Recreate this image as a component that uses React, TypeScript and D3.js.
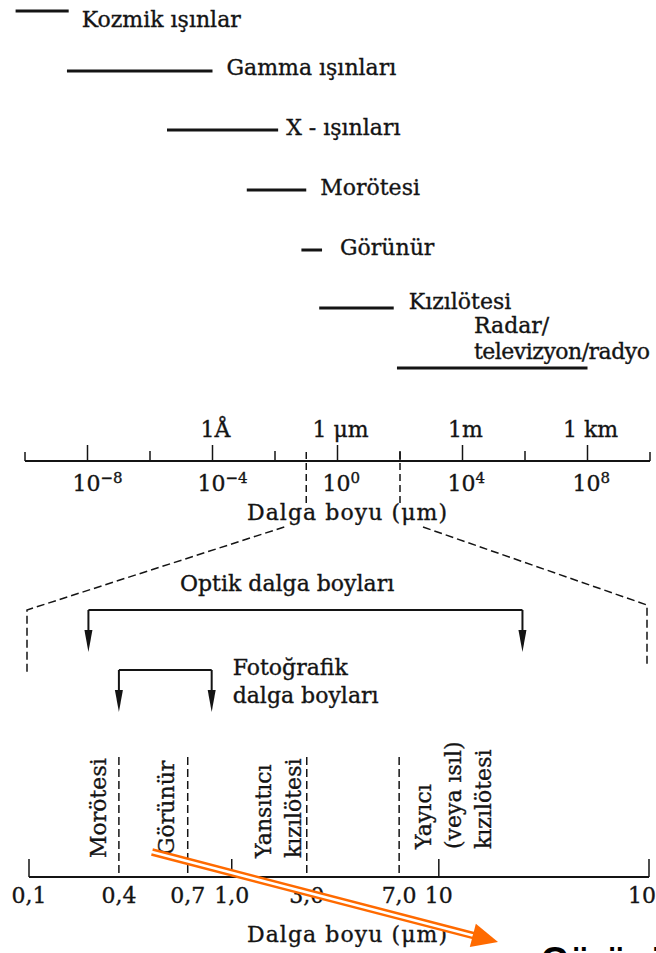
import React from "react";
import * as d3 from "d3";

// ---------- DATA ----------
// Electromagnetic spectrum bands (wavelength in µm)
const bandNames = ["Kozmik ışınlar", "Gamma ışınları", "X - ışınları", "Morötesi", "Görünür", "Kızılötesi", "Radar/|televizyon/radyo"];
const bandFrom = [5e-11, 2.2e-9, 3.5e-6, 1.25e-3, 0.07, 0.26, 80];
const bandTo = [2.5e-9, 1e-4, 0.0126, 0.1, 0.32, 63, 1e8];

// Top (log) axis
const topMajorTicks = [1e-8, 1e-4, 1, 1e4, 1e8];
const topMajorExp = ["−8", "−4", "0", "4", "8"];
const topMinorTicks = [1e-6, 1e-2, 1e2, 1e6];
const unitTicks = [1e-4, 1, 1e4, 1e8];
const unitLabels = ["1Å", "1 μm", "1m", "1 km"];
const zoomRange = [0.1, 100];

// Bottom (optical) axis
const bottomTicks = [0.1, 0.4, 0.7, 1.0, 3.0, 7.0, 10, 100];
const bottomTickLabels = ["0,1", "0,4", "0,7", "1,0", "3,0", "7,0", "10", "100"];
const solidTicks = [0.1, 1.0, 10, 100];
const regionBounds = [0.4, 0.7, 3.0, 7.0];
const regionLabels = [["Morötesi"], ["Görünür"], ["Yansıtıcı", "kızılötesi"], ["Yayıcı", "(veya ısıl)", "kızılötesi"]];
const optikRange = [0.25, 25];
const fotoRange = [0.4, 0.85];

// ---------- LAYOUT ----------
const W = 656, H = 953;
const FONT = "'DejaVu Serif', serif";
const INK = "#141414";
const rowY = [11, 71, 130, 190, 250, 308, 368];
const labelDx = [13, 14, 8, 14, 18, 15, 77];
const labelDy = [16, 4, 5, 5, 5, 1, -35];
const axisTopY = 461;
const axisBotY = 877;
// distorted axis positions of the bottom ticks (fraction of axis length)
const bottomFrac = [0, 0.145, 0.256, 0.327, 0.448, 0.597, 0.661, 1];
const regionOffsets = [[-13], [-14], [-36, -6], [32, 62, 92]];
const regionBottom = [858, 855, 858, 849];

export default function App() {
  const xTop = d3.scaleLog().domain([1e-10, 1e10]).range([25, 650]);
  const bx0 = 29, bx1 = 649;
  const xBotLin = d3.scaleLinear()
    .domain(bottomTicks.map(Math.log10))
    .range(bottomFrac.map((f) => bx0 + f * (bx1 - bx0)));
  const xBot = (v: number) => xBotLin(Math.log10(v));

  const textStyle = { fontFamily: FONT, fontSize: 22, fill: INK, stroke: INK, strokeWidth: 0.35 } as any;

  // arrow (annotation)
  const a0 = [152, 852], a1 = [498, 942];
  const dx = a1[0] - a0[0], dy = a1[1] - a0[1];
  const len = Math.hypot(dx, dy);
  const ux = dx / len, uy = dy / len;
  const headLen = 26, headHalf = 12;
  const base = [a1[0] - ux * headLen, a1[1] - uy * headLen];
  const head = [
    [a1[0], a1[1]],
    [base[0] - uy * headHalf, base[1] + ux * headHalf],
    [base[0] + uy * headHalf, base[1] - ux * headHalf],
  ];

  const downArrow = (x: number, y0: number, y1: number, key: string) => (
    <g key={key}>
      <line x1={x} y1={y0} x2={x} y2={y1 - 18} stroke={INK} strokeWidth={2} />
      <path d={`M${x - 4},${y1 - 22} L${x + 4},${y1 - 22} L${x},${y1} Z`} fill={INK} />
    </g>
  );

  const zl = xTop(zoomRange[0]), zr = xTop(zoomRange[1]);

  return (
    <svg width={W} height={H} style={{ position: "absolute", left: 0, top: 0, background: "#fff" }}>
      <rect width={W} height={H} fill="#fff" />
      {/* Spectrum bands */}
      {bandNames.map((name, i) => {
        const x1 = xTop(bandFrom[i]), x2 = xTop(bandTo[i]);
        const y = rowY[i];
        const parts = name.split("|");
        const lx = i === 6 ? x1 + labelDx[i] : x2 + labelDx[i];
        return (
          <g key={name}>
            <line x1={x1} x2={x2} y1={y} y2={y} stroke={INK} strokeWidth={3} />
            {parts.map((p, j) => (
              <text key={j} x={lx} y={y + labelDy[i] + j * 26} style={textStyle}
                textLength={p === "televizyon/radyo" ? 176 : undefined}>{p}</text>
            ))}
          </g>
        );
      })}

      {/* Top axis */}
      <line x1={xTop.range()[0]} x2={xTop.range()[1]} y1={axisTopY} y2={axisTopY} stroke={INK} strokeWidth={2} />
      {xTop.range().map((x, i) => (
        <line key={"e" + i} x1={x} x2={x} y1={axisTopY} y2={axisTopY - 9} stroke={INK} strokeWidth={1.5} />
      ))}
      {topMajorTicks.map((t) => (
        <line key={"M" + t} x1={xTop(t)} x2={xTop(t)} y1={axisTopY} y2={axisTopY - 16} stroke={INK} strokeWidth={1.5} />
      ))}
      {topMinorTicks.map((t) => (
        <line key={"m" + t} x1={xTop(t)} x2={xTop(t)} y1={axisTopY} y2={axisTopY - 10} stroke={INK} strokeWidth={1.5} />
      ))}
      {topMajorTicks.map((t, i) => (
        <text key={"tl" + t} x={xTop(t) - 15} y={491} style={textStyle}>
          10<tspan dy={-8} fontSize={15}>{topMajorExp[i]}</tspan>
        </text>
      ))}
      {unitTicks.map((t, i) => (
        <text key={"u" + t} x={xTop(t) + 3} y={437} textAnchor="middle" style={textStyle}>{unitLabels[i]}</text>
      ))}
      {zoomRange.map((v) => (
        <line key={"z" + v} x1={xTop(v)} x2={xTop(v)} y1={452} y2={503} stroke={INK} strokeWidth={1.5} strokeDasharray="7 4" />
      ))}
      <text x={247} y={520} textLength={200} style={textStyle}>Dalga boyu (μm)</text>

      {/* Expansion dashed lines */}
      <path d={`M${zl - 22},527 L${xBot(zoomRange[0]) - 2},610 L${xBot(zoomRange[0]) - 2},675`} fill="none" stroke={INK} strokeWidth={1.5} strokeDasharray="8 4" />
      <path d={`M${zr + 23},527 L${xBot(zoomRange[1]) - 2},605 L${xBot(zoomRange[1]) - 2},667`} fill="none" stroke={INK} strokeWidth={1.5} strokeDasharray="8 4" />

      {/* Optik bracket */}
      <text x={180} y={591} style={textStyle}>Optik dalga boyları</text>
      <line x1={xBot(optikRange[0])} x2={xBot(optikRange[1])} y1={610} y2={610} stroke={INK} strokeWidth={2} />
      {optikRange.map((v, i) => downArrow(xBot(v), 610, 652, "o" + i))}

      {/* Fotografik bracket */}
      <line x1={xBot(fotoRange[0])} x2={xBot(fotoRange[1])} y1={670} y2={670} stroke={INK} strokeWidth={2} />
      {fotoRange.map((v, i) => downArrow(xBot(v), 670, 712, "f" + i))}
      <text x={xBot(fotoRange[1]) + 21} y={675} style={textStyle}>Fotoğrafik</text>
      <text x={xBot(fotoRange[1]) + 21} y={703} style={textStyle}>dalga boyları</text>

      {/* Bottom axis */}
      <line x1={bx0} x2={bx1} y1={axisBotY} y2={axisBotY} stroke={INK} strokeWidth={2} />
      {solidTicks.map((t) => (
        <line key={"s" + t} x1={xBot(t)} x2={xBot(t)} y1={axisBotY} y2={axisBotY - 18} stroke={INK} strokeWidth={1.5} />
      ))}
      {regionBounds.map((t) => (
        <line key={"r" + t} x1={xBot(t)} x2={xBot(t)} y1={757} y2={axisBotY} stroke={INK} strokeWidth={1.5} strokeDasharray="8 4" />
      ))}
      {bottomTicks.map((t, i) => (
        <text key={"bt" + t} x={xBot(t)} y={903} textAnchor="middle" style={textStyle}>{bottomTickLabels[i]}</text>
      ))}
      {regionLabels.map((lines, i) =>
        lines.map((l, j) => {
          const x = xBot(regionBounds[i]) + regionOffsets[i][j];
          const y = regionBottom[i];
          return (
            <text key={"rl" + i + j} x={0} y={0} transform={`translate(${x},${y}) rotate(-90)`} style={textStyle}>{l}</text>
          );
        })
      )}
      <text x={247} y={942} textLength={200} style={textStyle}>Dalga boyu (μm)</text>

      {/* Orange arrow annotation */}
      <line x1={a0[0]} y1={a0[1]} x2={base[0] + ux * 2} y2={base[1] + uy * 2} stroke="#FF6A00" strokeWidth={7.5} />
      <line x1={a0[0] - ux * 1} y1={a0[1] - uy * 1} x2={base[0]} y2={base[1]} stroke="#fff" strokeWidth={2.6} />
      <path d={`M${head.map((p) => p.join(",")).join(" L")} Z`} fill="#FF6A00" />

      <text x={541} y={973} style={{ fontFamily: "'Liberation Sans', Arial, sans-serif", fontWeight: 700, fontSize: 36, fill: "#000" }}>Görünür</text>
    </svg>
  );
}
